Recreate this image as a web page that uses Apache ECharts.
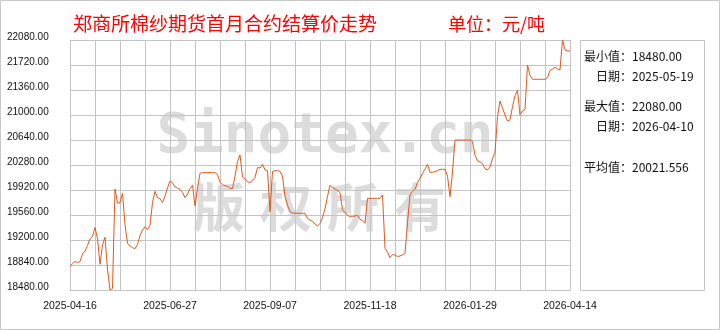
<!DOCTYPE html>
<html>
<head>
<meta charset="utf-8">
<script src="https://cdn.jsdelivr.net/npm/echarts@6/dist/echarts.min.js"></script>
<style>
html,body{margin:0;padding:0;background:#fff;}
#c{width:720px;height:330px;}
</style>
</head>
<body>
<div id="c"></div>
<script>
// ---- data ----
const titleText = '郑商所棉纱期货首月合约结算价走势';
const unitText = '单位：元/吨';
const xTickLabels = ['2025-04-16','2025-06-27','2025-09-07','2025-11-18','2026-01-29','2026-04-14'];
const yMin = 18480, yMax = 22080, yStep = 360;
const prices = [
  18816,18860,18890,18875,18890,19000,19040,19120,19218,19250,
  19380,19220,18850,19130,19240,18780,18480,18500,19934,19729,
  19740,19872,19420,19150,19115,19090,19075,19135,19260,19345,
  19390,19350,19410,19740,19900,19810,19795,19738,19830,19950,
  20050,20025,19965,19948,19930,19885,19810,19860,19940,19990,
  19690,19950,20160,20170,20170,20170,20170,20170,20170,20140,
  20030,19995,19985,19972,19945,19940,20120,20330,20424,20108,
  20078,20040,20026,20060,20100,20245,20235,20290,20208,20200,
  19608,20185,20198,20198,20190,20120,19830,19700,19608,19590,
  19584,19584,19584,19584,19584,19510,19488,19470,19430,19400,
  19440,19520,19650,19830,19990,19955,19935,19915,19880,19640,
  19590,19560,19530,19540,19545,19555,19500,19480,19440,19800,
  19800,19800,19800,19800,19800,19848,19080,19025,18945,18990,
  18985,18960,18970,18985,19005,19450,19848,19900,19930,20030,
  20090,20160,20220,20290,20175,20175,20185,20200,20218,20218,
  20218,20120,19824,20180,20640,20640,20640,20640,20640,20640,
  20640,20620,20420,20338,20325,20300,20225,20208,20250,20370,
  20460,20980,21200,21100,21000,20910,20930,21120,21280,21355,
  21000,21060,21082,21720,21570,21514,21514,21514,21514,21514,
  21514,21540,21640,21660,21690,21665,21650,22080,21940,21922,
  21922
];
const statLines = [
  {text:'最小值：18480.00', indent:false},
  {text:'日期：2025-05-19', indent:true},
  {text:'最大值：22080.00', indent:false},
  {text:'日期：2026-04-10', indent:true},
  {text:'平均值：20021.556', indent:false}
];
const watermark1 = 'Sinotex.cn';
const watermark2 = '版权所有';

// ---- chart ----
const chart = echarts.init(document.getElementById('c'), null, {renderer:'canvas'});
const lastIdx = prices.length - 1;           // 200
const gridStep = lastIdx / 20;               // 10
const labelStep = lastIdx / (xTickLabels.length - 1); // 40
const gridColor = '#c4c4c4';
const cjk = '"Noto Sans CJK SC", "Noto Sans", sans-serif';

const statY = [56, 76, 106, 126, 167];
const graphics = [
  {type:'rect', z:100, shape:{x:0.5,y:0.5,width:719,height:329}, style:{fill:null, stroke:'#c8c8c8', lineWidth:1}},
  {type:'text', z:100, style:{x:73, y:24, text:titleText, fill:'#ff0000', font:'19px ' + cjk, align:'left', verticalAlign:'middle'}},
  {type:'text', z:100, style:{x:448, y:24, text:unitText, fill:'#ff0000', font:'18px ' + cjk, align:'left', verticalAlign:'middle'}},
  {type:'rect', z:100, shape:{x:580.5,y:40.5,width:124,height:250}, style:{fill:null, stroke:'#c4c4c4', lineWidth:1}},
  {type:'text', z:-10, style:{x:325, y:137, text:watermark1, fill:'#dcdcdc', font:'bold 56px "DejaVu Sans Mono", monospace', align:'center', verticalAlign:'middle'}}
];
watermark2.split('').forEach((ch, k) => {
  graphics.push({type:'text', z:-10, style:{x:219 + k*67, y:207, text:ch, fill:'#dcdcdc', font:'bold 52px ' + cjk, align:'center', verticalAlign:'middle'}});
});
statLines.forEach((s, k) => {
  graphics.push({type:'text', z:100, style:{x: s.indent ? 596 : 584, y: statY[k], text:s.text, fill:'#111', font:'12px ' + cjk, align:'left', verticalAlign:'middle'}});
});

chart.setOption({
  animation:false,
  backgroundColor:'#ffffff',
  grid:{left:70, right:150, top:40, bottom:40, containLabel:false},
  xAxis:{
    type:'value', min:0, max:lastIdx, interval:gridStep,
    axisLine:{show:true, lineStyle:{color:gridColor}},
    axisTick:{show:false},
    splitLine:{show:true, lineStyle:{color:gridColor, width:1}},
    axisLabel:{
      show:true, margin:11, color:'#111', fontSize:10.5, fontFamily:'"Liberation Sans", Arial, sans-serif',
      showMinLabel:true, showMaxLabel:true, hideOverlap:false,
      formatter:(v) => {
        const r = Math.round(v);
        return (r % labelStep === 0) ? xTickLabels[r / labelStep] : '';
      }
    }
  },
  yAxis:{
    type:'value', min:yMin, max:yMax, interval:yStep,
    axisLine:{show:true, lineStyle:{color:gridColor}},
    axisTick:{show:false},
    splitLine:{show:true, lineStyle:{color:gridColor, width:1}},
    axisLabel:{
      show:true, margin:63, align:'left', verticalAlign:'bottom', lineHeight:6,
      color:'#111', fontSize:10, fontFamily:'"Liberation Sans", Arial, sans-serif',
      showMinLabel:true, showMaxLabel:true,
      formatter:(v) => v.toFixed(2)
    }
  },
  series:[{
    type:'line', data: prices.map((p, i) => [i, p]),
    showSymbol:false, symbol:'none', smooth:false,
    lineStyle:{color:'#dd5a1c', width:1},
    z:5
  }],
  graphic: graphics
});
</script>
</body>
</html>
